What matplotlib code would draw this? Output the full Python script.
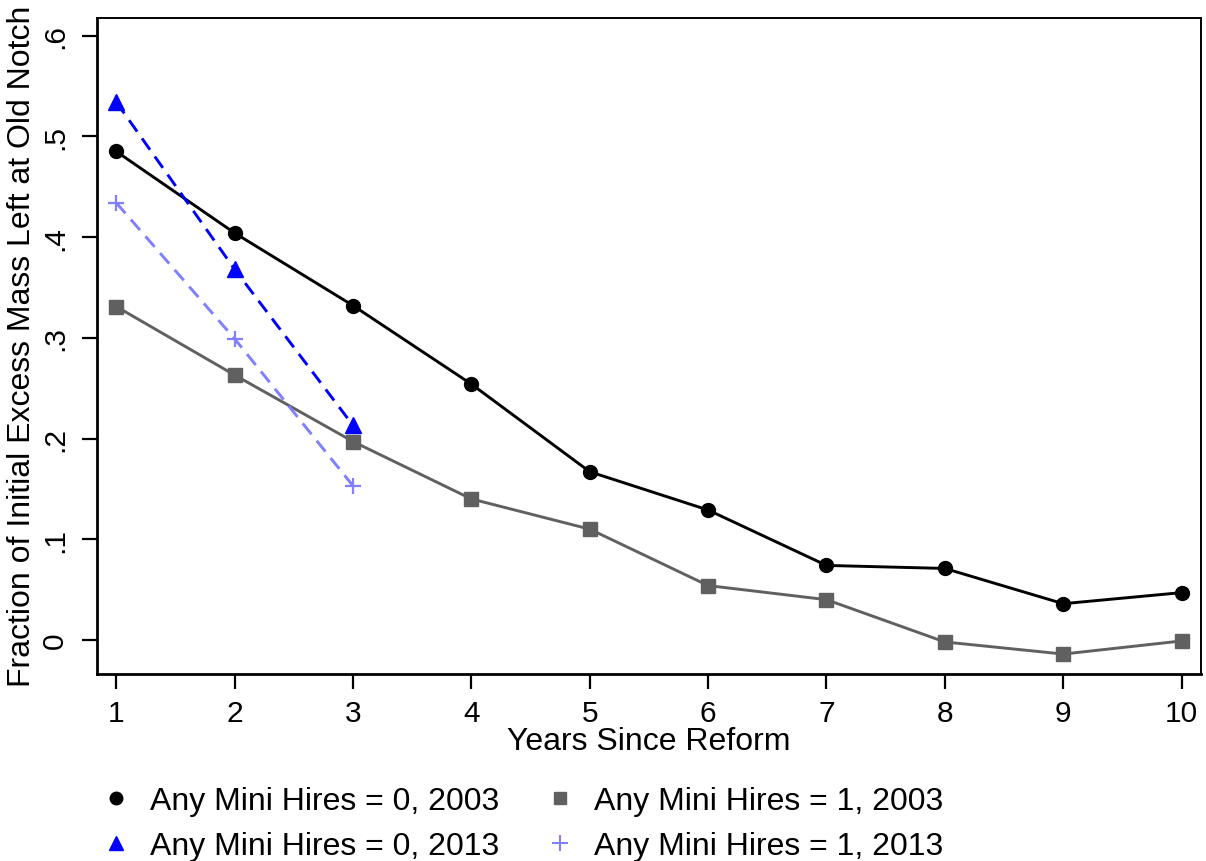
import numpy as np
import matplotlib
matplotlib.use('Agg')
import matplotlib.pyplot as plt
from matplotlib.lines import Line2D

plt.rcParams['font.family'] = ['Liberation Sans', 'DejaVu Sans']
plt.rcParams['lines.scale_dashes'] = False

# years since reform
years_2003 = np.arange(1, 11)
years_2013 = np.array([1, 2, 3])

# fraction of initial excess mass left at old notch
mini0_2003 = [0.485, 0.404, 0.332, 0.254, 0.167, 0.129, 0.074, 0.071, 0.036, 0.047]
mini1_2003 = [0.331, 0.263, 0.197, 0.140, 0.110, 0.054, 0.040, -0.002, -0.014, -0.001]
mini0_2013 = [0.534, 0.368, 0.213]
mini1_2013 = [0.434, 0.299, 0.153]

labels = ['Any Mini Hires = 0, 2003', 'Any Mini Hires = 0, 2013',
          'Any Mini Hires = 1, 2003', 'Any Mini Hires = 1, 2013']

yticks = [0, 0.1, 0.2, 0.3, 0.4, 0.5, 0.6]
ytick_labels = ['0', '.1', '.2', '.3', '.4', '.5', '.6']

black = '#000000'
gray = '#606060'
blue = '#0000ff'
lblue = '#7f7fff'

fig = plt.figure(figsize=(12.06, 8.62), dpi=100)
ax = fig.add_axes([97 / 1206, 1 - 675 / 862, (1201 - 97) / 1206, (675 - 18.5) / 862])

ax.plot(years_2003, mini0_2003, color=black, lw=2.1, marker='o', ms=10, zorder=4)
ax.plot(years_2003, mini1_2003, color=gray, lw=2.1, marker='s', ms=9.5, zorder=3)
ax.plot(years_2013, mini0_2013, color=blue, lw=2.1, marker='^', ms=11.5,
        linestyle=(0, (10, 6)), zorder=5)
ax.plot(years_2013, mini1_2013, color=lblue, lw=2.1, marker='+', ms=11, mew=1.6,
        linestyle=(0, (10, 6)), zorder=5)

ax.set_xlim(0.837, 10.164)
ax.set_ylim(-0.0338, 0.618)
ax.set_xticks(range(1, 11))
ax.set_yticks(yticks)
ax.set_yticklabels(ytick_labels, rotation=90, va='center')

for s in ['left', 'bottom']:
    ax.spines[s].set_linewidth(2.0)
for s in ['top', 'right']:
    ax.spines[s].set_linewidth(1.4)

ax.tick_params(axis='both', direction='out', length=11, width=1.6, labelsize=21.5)
ax.tick_params(axis='x', pad=7)
ax.tick_params(axis='y', pad=9)

ax.set_xlabel('Years Since Reform', fontsize=23)
ax.set_ylabel('Fraction of Initial Excess Mass Left at Old Notch', fontsize=23)
ax.xaxis.set_label_coords(0.5, (675 - 742) / 656.5)
ax.xaxis.label.set_va('center')
ax.yaxis.set_label_coords((22 - 97) / 1104, (675 - 346) / 656.5)
ax.yaxis.label.set_va('center')

handles = [
    Line2D([], [], color=black, marker='o', ms=9, linestyle='none'),
    Line2D([], [], color=blue, marker='^', ms=10, linestyle='none'),
    Line2D([], [], color=gray, marker='s', ms=8.5, linestyle='none'),
    Line2D([], [], color=lblue, marker='+', ms=11, mew=1.5, linestyle='none'),
]
fig.legend(handles, labels, ncol=2, frameon=False, fontsize=23,
           loc='upper left', bbox_to_anchor=(100 / 1206, 1 - 787 / 862),
           handlelength=1.0, handletextpad=0.56, columnspacing=1.4,
           labelspacing=0.46, borderaxespad=0, borderpad=0)

fig.savefig('out.png', dpi=100)
